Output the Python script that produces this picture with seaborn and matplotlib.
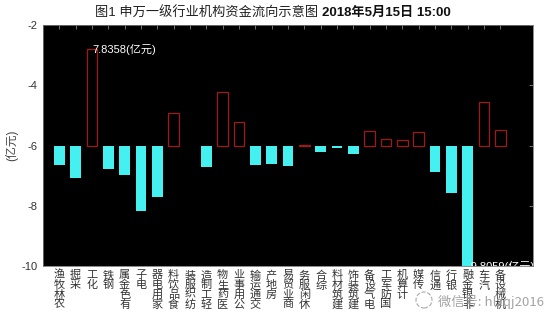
import matplotlib
matplotlib.use('Agg')
import matplotlib.pyplot as plt
from matplotlib.patches import Ellipse
import seaborn as sns
import pandas as pd
import numpy as np

# ---- data (亿元) ----
industries = ['农林牧渔', '采掘', '化工', '钢铁', '有色金属', '电子', '家用电器',
              '食品饮料', '纺织服装', '轻工制造', '医药生物', '公用事业', '交通运输',
              '房地产', '商业贸易', '休闲服务', '综合', '建筑材料', '建筑装饰',
              '电气设备', '国防军工', '计算机', '传媒', '通信', '银行', '非银金融',
              '汽车', '机械设备']
flows = [-1.59, -2.62, 7.8358, -1.91, -2.43, -5.31, -4.17,
         2.62, -0.05, -1.73, 4.36, 1.89, -1.59,
         -1.50, -1.67, 0.08, -0.55, -0.18, -0.72,
         1.20, 0.53, 0.45, 1.12, -2.18, -3.90, -9.8059,
         3.58, 1.26]
baseline = -6
half_range = 4
yticks = [-2, -4, -6, -8, -10]
title_a = '图1 申万一级行业机构资金流向示意图 '
title_b = '2018年5月15日 15:00'
unit = '(亿元)'
watermark = '微信号: hlzqj2016'

sns.set_theme(style='white')
plt.rcParams['font.family'] = ['Liberation Sans', 'Noto Sans CJK SC', 'DejaVu Sans']

W, H = 554, 326
fig = plt.figure(figsize=(W / 100, H / 100), dpi=100)
fig.patch.set_facecolor('white')
ax = fig.add_axes([43 / W, 1 - 266 / H, 490 / W, 241 / H])
ax.set_facecolor('black')

scale = half_range / max(abs(v) for v in flows)
df = pd.DataFrame({'industry': industries, 'flow': flows})
df['height'] = df['flow'] * scale

sns.barplot(data=df, x='industry', y='height', bottom=baseline, width=0.64,
            color='#44F0F0', saturation=1, ax=ax, errorbar=None)

for patch, v in zip(ax.patches, flows):
    if v >= 0:
        patch.set_facecolor('black')
        patch.set_edgecolor('#A01818')
        patch.set_linewidth(0.9)
    else:
        patch.set_facecolor('#44F0F0')
        patch.set_edgecolor('none')

ax.set_xlim(-1, len(industries) + 1)
ax.set_ylim(-10, -2)
ax.set_yticks(yticks)
ax.set_yticklabels([str(t) for t in yticks], fontsize=8, color='#333333')
ax.set_xticks(range(len(industries)))
ax.set_xticklabels(['\n'.join(reversed(s)) for s in industries], rotation=0,
                   va='top', ha='center', fontsize=8, color='#333333',
                   family=['Noto Sans CJK SC'], linespacing=0.95)
ax.set_xlabel('')
ax.set_ylabel('')
ax.tick_params(axis='both', direction='in', length=3, color='#888888',
               top=True, right=True, width=0.6)
ax.tick_params(axis='x', pad=3)
ax.tick_params(axis='y', pad=4)
for s in ax.spines.values():
    s.set_color('#777777')
    s.set_linewidth(0.6)

# annotations at extremes
imax = int(np.argmax(flows))
imin = int(np.argmin(flows))
ax.text(imax, baseline + flows[imax] * scale, f'{flows[imax]:.4f}{unit}',
        color='white', fontsize=8, ha='left', va='center')
ax.text(imin, baseline + flows[imin] * scale, f'{flows[imin]:.4f}{unit}',
        color='white', fontsize=8, ha='left', va='center', clip_on=True)

# title in two parts
xs = 322 / W
fig.text(xs, 1 - 13 / H, title_a, ha='right', va='center', fontsize=9.5,
         color='#222222', family=['Liberation Sans', 'Noto Sans CJK SC'])
fig.text(xs, 1 - 13 / H, title_b, ha='left', va='center', fontsize=9.5,
         fontweight='bold', color='#111111',
         family=['Liberation Sans', 'Noto Sans CJK SC'])

fig.text(12 / W, 1 - 145 / H, unit, rotation=90, ha='center', va='center',
         fontsize=8.5, color='#444444', family=['Liberation Sans', 'Noto Sans CJK SC'])

# watermark
fig.text(438 / W, 1 - 302 / H, watermark, ha='left', va='center', fontsize=9.5,
         color='#9a9a9a', alpha=0.9, family=['Noto Sans CJK SC'])
fig.add_artist(Ellipse((424 / W, 1 - 300 / H), 16 / W, 16 / H,
                       transform=fig.transFigure, fill=False,
                       edgecolor='#aaaaaa', linewidth=0.8, linestyle='--'))

fig.savefig('out.png', dpi=100, facecolor='white')
